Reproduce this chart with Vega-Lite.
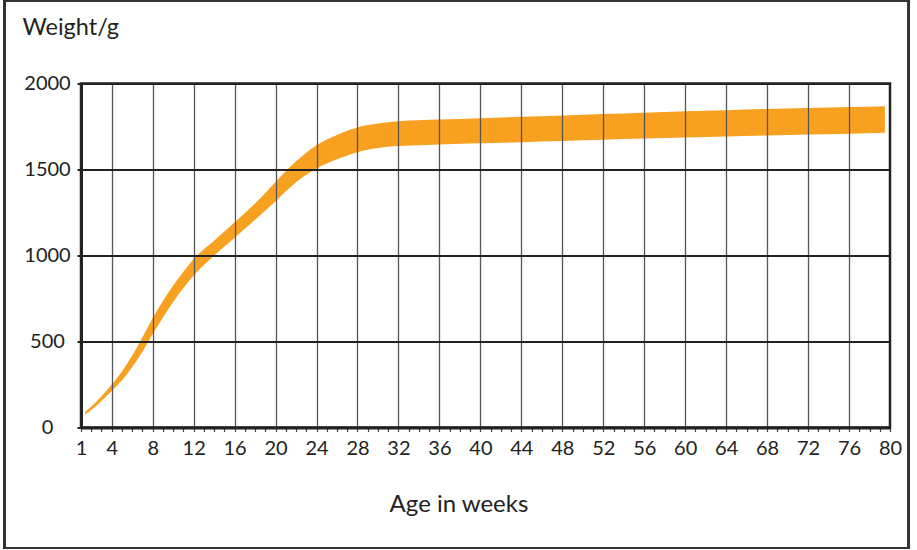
{
  "$schema": "https://vega.github.io/schema/vega-lite/v6.json",
  "width": 809,
  "height": 344,
  "autosize": {"type": "none"},
  "padding": {"left": 81, "top": 83.5, "right": 27, "bottom": 122.5},
  "background": "white",
  "config": {"view": {"stroke": "#222", "strokeWidth": 2.5}, "font": "Lato"},
  "data": {"values": [
    {"week": 1.4, "low": 76, "high": 92},
    {"week": 2, "low": 102, "high": 122},
    {"week": 3, "low": 154, "high": 182},
    {"week": 4, "low": 212, "high": 250},
    {"week": 5, "low": 274, "high": 326},
    {"week": 6, "low": 352, "high": 418},
    {"week": 7, "low": 441, "high": 525},
    {"week": 8, "low": 543, "high": 637},
    {"week": 9, "low": 640, "high": 736},
    {"week": 10, "low": 730, "high": 826},
    {"week": 11, "low": 811, "high": 905},
    {"week": 12, "low": 884, "high": 980},
    {"week": 13, "low": 945, "high": 1036},
    {"week": 14, "low": 1000, "high": 1086},
    {"week": 15, "low": 1052, "high": 1139},
    {"week": 16, "low": 1103, "high": 1193},
    {"week": 17, "low": 1155, "high": 1247},
    {"week": 18, "low": 1208, "high": 1302},
    {"week": 19, "low": 1262, "high": 1363},
    {"week": 20, "low": 1316, "high": 1428},
    {"week": 21, "low": 1373, "high": 1492},
    {"week": 22, "low": 1426, "high": 1548},
    {"week": 23, "low": 1469, "high": 1598},
    {"week": 24, "low": 1506, "high": 1641},
    {"week": 25, "low": 1535, "high": 1674},
    {"week": 26, "low": 1560, "high": 1701},
    {"week": 27, "low": 1582, "high": 1725},
    {"week": 28, "low": 1601, "high": 1744},
    {"week": 29, "low": 1615, "high": 1758},
    {"week": 30, "low": 1625, "high": 1768},
    {"week": 31, "low": 1632, "high": 1775},
    {"week": 32, "low": 1636, "high": 1780},
    {"week": 36, "low": 1645, "high": 1790},
    {"week": 40, "low": 1652, "high": 1798},
    {"week": 44, "low": 1659, "high": 1806},
    {"week": 48, "low": 1666, "high": 1814},
    {"week": 52, "low": 1673, "high": 1822},
    {"week": 56, "low": 1680, "high": 1830},
    {"week": 60, "low": 1686, "high": 1838},
    {"week": 64, "low": 1692, "high": 1845},
    {"week": 68, "low": 1698, "high": 1852},
    {"week": 72, "low": 1703, "high": 1858},
    {"week": 76, "low": 1708, "high": 1863},
    {"week": 79.5, "low": 1713, "high": 1868}
  ]},
  "layer": [
    {
      "mark": {"type": "area", "interpolate": "monotone", "color": "#F8A01F"},
      "encoding": {
        "x": {
          "field": "week",
          "type": "quantitative",
          "scale": {"domain": [1, 80], "nice": false, "zero": false},
          "axis": {
            "values": [1,2,3,4,5,6,7,8,9,10,11,12,13,14,15,16,17,18,19,20,21,22,23,24,25,26,27,28,29,30,31,32,33,34,35,36,37,38,39,40,41,42,43,44,45,46,47,48,49,50,51,52,53,54,55,56,57,58,59,60,61,62,63,64,65,66,67,68,69,70,71,72,73,74,75,76,77,78,79,80],
            "tickCount": 200,
            "format": "d",
            "title": "Age in weeks",
            "titleX": 377.5,
            "titleY": 84,
            "titleAlign": "center",
            "titleBaseline": "alphabetic",
            "titleFontSize": 24,
            "titleFontWeight": "normal",
            "titleColor": "#222",
            "labelExpr": "datum.value === 1 || datum.value % 4 === 0 ? datum.label : ''",
            "labelOverlap": false,
            "labelFlush": false,
            "labelFontSize": 20,
            "labelColor": "#222",
            "labelPadding": 7,
            "tickSize": 4,
            "tickColor": "#444",
            "tickWidth": 1.2,
            "domainColor": "#222",
            "domainWidth": 3,
            "grid": true,
            "gridColor": "#555",
            "gridWidth": 1.3,
            "gridOpacity": {"condition": {"test": "datum.value % 4 === 0 && datum.value < 80", "value": 1}, "value": 0},
            "zindex": 1,
            "encode": {"labels": {"update": {"dx": {"signal": "datum.value === 1 ? 6 : datum.value === 80 ? -4 : 0"}}}}
          }
        },
        "y": {
          "field": "low",
          "type": "quantitative",
          "scale": {"domain": [0, 2000], "nice": false},
          "axis": {
            "values": [0, 500, 1000, 1500, 2000],
            "format": "d",
            "title": "Weight/g",
            "titleAngle": 0,
            "titleAlign": "left",
            "titleBaseline": "alphabetic",
            "titleX": -59,
            "titleY": -49,
            "titleFontSize": 23.5,
            "titleFontWeight": "normal",
            "titleColor": "#222",
            "labelAlign": "center",
            "labelBaseline": "middle",
            "labelPadding": 30,
            "labelFontSize": 20,
            "labelColor": "#222",
            "tickSize": 4,
            "tickColor": "#222",
            "tickWidth": 2,
            "domainColor": "#222",
            "domainWidth": 3,
            "grid": true,
            "gridColor": "#222",
            "gridWidth": 2,
            "zindex": 1
          }
        },
        "y2": {"field": "high"}
      }
    },
    {
      "mark": {"type": "rect", "fill": null, "stroke": "#333", "strokeWidth": 2},
      "encoding": {
        "x": {"datum": -6.5},
        "x2": {"datum": 81.85},
        "y": {"datum": 2480},
        "y2": {"datum": -700}
      }
    }
  ]
}
